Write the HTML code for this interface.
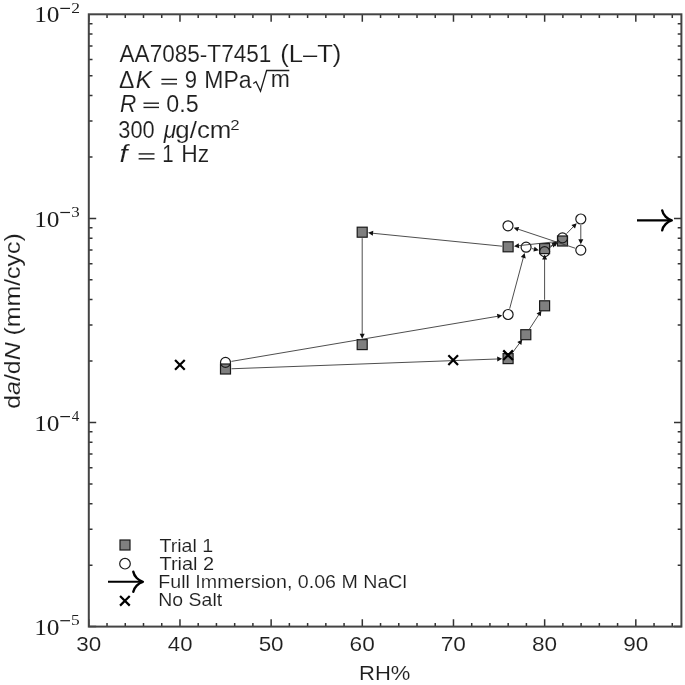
<!DOCTYPE html>
<html><head><meta charset="utf-8"><style>
html,body{margin:0;padding:0;background:#fff;}
svg{display:block;will-change:transform;}
text{stroke:#fff;stroke-width:0.1px;}
</style></head><body>
<svg width="685" height="685" viewBox="0 0 685 685">
<rect width="685" height="685" fill="#fff"/>
<path d="M88.80,626.60V619.20M88.80,14.30V21.70M107.03,626.60V622.90M107.03,14.30V18.00M125.27,626.60V622.90M125.27,14.30V18.00M143.50,626.60V622.90M143.50,14.30V18.00M161.74,626.60V622.90M161.74,14.30V18.00M179.97,626.60V619.20M179.97,14.30V21.70M198.20,626.60V622.90M198.20,14.30V18.00M216.44,626.60V622.90M216.44,14.30V18.00M234.67,626.60V622.90M234.67,14.30V18.00M252.90,626.60V622.90M252.90,14.30V18.00M271.14,626.60V619.20M271.14,14.30V21.70M289.37,626.60V622.90M289.37,14.30V18.00M307.61,626.60V622.90M307.61,14.30V18.00M325.84,626.60V622.90M325.84,14.30V18.00M344.07,626.60V622.90M344.07,14.30V18.00M362.31,626.60V619.20M362.31,14.30V21.70M380.54,626.60V622.90M380.54,14.30V18.00M398.78,626.60V622.90M398.78,14.30V18.00M417.01,626.60V622.90M417.01,14.30V18.00M435.24,626.60V622.90M435.24,14.30V18.00M453.48,626.60V619.20M453.48,14.30V21.70M471.71,626.60V622.90M471.71,14.30V18.00M489.94,626.60V622.90M489.94,14.30V18.00M508.18,626.60V622.90M508.18,14.30V18.00M526.41,626.60V622.90M526.41,14.30V18.00M544.65,626.60V619.20M544.65,14.30V21.70M562.88,626.60V622.90M562.88,14.30V18.00M581.11,626.60V622.90M581.11,14.30V18.00M599.35,626.60V622.90M599.35,14.30V18.00M617.58,626.60V622.90M617.58,14.30V18.00M635.82,626.60V619.20M635.82,14.30V21.70M654.05,626.60V622.90M654.05,14.30V18.00M672.28,626.60V622.90M672.28,14.30V18.00M88.80,626.60H96.20M681.40,626.60H674.00M88.80,565.16H92.50M681.40,565.16H677.70M88.80,529.22H92.50M681.40,529.22H677.70M88.80,503.72H92.50M681.40,503.72H677.70M88.80,483.94H92.50M681.40,483.94H677.70M88.80,467.78H92.50M681.40,467.78H677.70M88.80,454.12H92.50M681.40,454.12H677.70M88.80,442.28H92.50M681.40,442.28H677.70M88.80,431.84H92.50M681.40,431.84H677.70M88.80,422.50H96.20M681.40,422.50H674.00M88.80,361.06H92.50M681.40,361.06H677.70M88.80,325.12H92.50M681.40,325.12H677.70M88.80,299.62H92.50M681.40,299.62H677.70M88.80,279.84H92.50M681.40,279.84H677.70M88.80,263.68H92.50M681.40,263.68H677.70M88.80,250.02H92.50M681.40,250.02H677.70M88.80,238.18H92.50M681.40,238.18H677.70M88.80,227.74H92.50M681.40,227.74H677.70M88.80,218.40H96.20M681.40,218.40H674.00M88.80,156.96H92.50M681.40,156.96H677.70M88.80,121.02H92.50M681.40,121.02H677.70M88.80,95.52H92.50M681.40,95.52H677.70M88.80,75.74H92.50M681.40,75.74H677.70M88.80,59.58H92.50M681.40,59.58H677.70M88.80,45.92H92.50M681.40,45.92H677.70M88.80,34.08H92.50M681.40,34.08H677.70M88.80,23.64H92.50M681.40,23.64H677.70" stroke="#333" stroke-width="1.5" fill="none"/><rect x="88.8" y="14.3" width="592.60" height="612.30" fill="none" stroke="#444" stroke-width="2.0"/><rect x="220.50" y="364.00" width="10" height="10" fill="#7f7f7f" stroke="#1a1a1a" stroke-width="1.2"/><rect x="503.10" y="353.60" width="10" height="10" fill="#7f7f7f" stroke="#1a1a1a" stroke-width="1.2"/><rect x="520.80" y="329.70" width="10" height="10" fill="#7f7f7f" stroke="#1a1a1a" stroke-width="1.2"/><rect x="539.60" y="300.80" width="10" height="10" fill="#7f7f7f" stroke="#1a1a1a" stroke-width="1.2"/><rect x="539.60" y="243.60" width="10" height="10" fill="#7f7f7f" stroke="#1a1a1a" stroke-width="1.2"/><rect x="557.50" y="236.00" width="10" height="10" fill="#7f7f7f" stroke="#1a1a1a" stroke-width="1.2"/><rect x="503.10" y="241.80" width="10" height="10" fill="#7f7f7f" stroke="#1a1a1a" stroke-width="1.2"/><rect x="357.20" y="227.20" width="10" height="10" fill="#7f7f7f" stroke="#1a1a1a" stroke-width="1.2"/><rect x="357.20" y="339.60" width="10" height="10" fill="#7f7f7f" stroke="#1a1a1a" stroke-width="1.2"/><circle cx="225.50" cy="362.40" r="5" fill="none" stroke="#1a1a1a" stroke-width="1.2"/><circle cx="508.10" cy="314.50" r="5" fill="none" stroke="#1a1a1a" stroke-width="1.2"/><circle cx="526.10" cy="247.20" r="5" fill="none" stroke="#1a1a1a" stroke-width="1.2"/><circle cx="544.60" cy="251.60" r="5" fill="none" stroke="#1a1a1a" stroke-width="1.2"/><circle cx="562.50" cy="237.90" r="5" fill="none" stroke="#1a1a1a" stroke-width="1.2"/><circle cx="580.80" cy="219.00" r="5" fill="none" stroke="#1a1a1a" stroke-width="1.2"/><circle cx="580.80" cy="250.10" r="5" fill="none" stroke="#1a1a1a" stroke-width="1.2"/><circle cx="508.00" cy="225.80" r="5" fill="none" stroke="#1a1a1a" stroke-width="1.2"/><line x1="231.50" y1="368.78" x2="497.71" y2="358.98" stroke="#3a3a3a" stroke-width="0.9"/><polygon points="502.20,358.82 497.30,361.50 497.12,356.50" fill="#111"/><line x1="511.67" y1="353.78" x2="519.61" y2="343.06" stroke="#3a3a3a" stroke-width="0.9"/><polygon points="522.29,339.44 521.32,344.95 517.30,341.97" fill="#111"/><line x1="529.07" y1="329.67" x2="538.93" y2="314.52" stroke="#3a3a3a" stroke-width="0.9"/><polygon points="541.38,310.75 540.75,316.30 536.56,313.57" fill="#111"/><line x1="544.60" y1="299.80" x2="544.60" y2="259.00" stroke="#3a3a3a" stroke-width="0.9"/><polygon points="544.60,254.50 547.10,259.50 542.10,259.50" fill="#111"/><line x1="550.12" y1="246.26" x2="552.93" y2="245.06" stroke="#3a3a3a" stroke-width="0.9"/><polygon points="557.07,243.31 553.44,247.56 551.49,242.96" fill="#111"/><line x1="556.53" y1="241.64" x2="518.44" y2="245.70" stroke="#3a3a3a" stroke-width="0.9"/><polygon points="513.97,246.17 518.67,243.16 519.20,248.13" fill="#111"/><line x1="502.13" y1="246.20" x2="372.55" y2="233.24" stroke="#3a3a3a" stroke-width="0.9"/><polygon points="368.07,232.79 373.29,230.80 372.80,235.77" fill="#111"/><line x1="362.20" y1="238.20" x2="362.20" y2="334.20" stroke="#3a3a3a" stroke-width="0.9"/><polygon points="362.20,338.70 359.70,333.70 364.70,333.70" fill="#111"/><line x1="231.42" y1="361.40" x2="497.85" y2="316.24" stroke="#3a3a3a" stroke-width="0.9"/><polygon points="502.28,315.49 497.77,318.79 496.94,313.86" fill="#111"/><line x1="509.65" y1="308.70" x2="523.41" y2="257.25" stroke="#3a3a3a" stroke-width="0.9"/><polygon points="524.58,252.90 525.70,258.38 520.87,257.08" fill="#111"/><line x1="531.94" y1="248.59" x2="534.48" y2="249.19" stroke="#3a3a3a" stroke-width="0.9"/><polygon points="538.86,250.23 533.42,251.51 534.57,246.65" fill="#111"/><line x1="549.36" y1="247.95" x2="554.24" y2="244.22" stroke="#3a3a3a" stroke-width="0.9"/><polygon points="557.81,241.49 555.36,246.51 552.32,242.54" fill="#111"/><line x1="566.67" y1="233.59" x2="573.57" y2="226.47" stroke="#3a3a3a" stroke-width="0.9"/><polygon points="576.70,223.24 575.01,228.57 571.42,225.09" fill="#111"/><line x1="580.80" y1="225.00" x2="580.80" y2="239.70" stroke="#3a3a3a" stroke-width="0.9"/><polygon points="580.80,244.20 578.30,239.20 583.30,239.20" fill="#111"/><line x1="575.11" y1="248.20" x2="517.86" y2="229.09" stroke="#3a3a3a" stroke-width="0.9"/><polygon points="513.60,227.67 519.13,226.88 517.55,231.62" fill="#111"/><path d="M175.05,360.05L184.75,369.75M175.05,369.75L184.75,360.05" stroke="#000" stroke-width="2.2" fill="none"/><path d="M448.35,355.25L458.05,364.95M448.35,364.95L458.05,355.25" stroke="#000" stroke-width="2.2" fill="none"/><path d="M503.25,350.35L512.95,360.05M503.25,360.05L512.95,350.35" stroke="#000" stroke-width="2.2" fill="none"/><path d="M637.00,220.40H670.80" stroke="#000" stroke-width="2.1" fill="none"/><path d="M662.20,210.40C663.00,214.90 667.30,219.20 671.80,220.40C667.30,221.60 663.00,225.90 662.20,230.40" stroke="#000" stroke-width="2.4" fill="none" stroke-linecap="round" stroke-linejoin="round"/><rect x="120.00" y="540.00" width="10" height="10" fill="#7f7f7f" stroke="#1a1a1a" stroke-width="1.2"/><circle cx="125.00" cy="563.70" r="5.3" fill="none" stroke="#1a1a1a" stroke-width="1.2"/><path d="M108.00,581.80H141.90" stroke="#000" stroke-width="2.1" fill="none"/><path d="M133.30,571.80C134.10,576.30 138.40,580.60 142.90,581.80C138.40,583.00 134.10,587.30 133.30,591.80" stroke="#000" stroke-width="2.4" fill="none" stroke-linecap="round" stroke-linejoin="round"/><path d="M120.05,595.95L129.75,605.65M120.05,605.65L129.75,595.95" stroke="#000" stroke-width="2.2" fill="none"/><path d="M253.2,83.5L256,81.8L260.5,91.2L266.6,70.5H289.3" stroke="#1e1e1e" stroke-width="1.3" fill="none"/>
<text transform="translate(119.56,61.80) scale(0.9730,1)" font-family='"Liberation Sans", sans-serif' font-size="23.2" fill="#1e1e1e">AA7085-T7451</text><text transform="translate(280.31,61.80) scale(1.1018,1)" font-family='"Liberation Sans", sans-serif' font-size="23.2" fill="#1e1e1e">(L–T)</text><text transform="translate(119.01,87.60) scale(0.9927,1)" font-family='"Liberation Sans", sans-serif' font-size="23.2" fill="#1e1e1e">Δ</text><text transform="translate(135.75,87.60) scale(1.0442,1)" font-family='"Liberation Sans", sans-serif' font-size="23.2" font-style="italic" fill="#1e1e1e">K</text><rect x="161.40" y="78.70" width="15.60" height="1.4" fill="#1e1e1e"/><rect x="161.40" y="83.20" width="15.60" height="1.4" fill="#1e1e1e"/><text transform="translate(184.76,87.60) scale(0.9518,1)" font-family='"Liberation Sans", sans-serif' font-size="23.2" fill="#1e1e1e">9</text><text transform="translate(204.31,87.60) scale(0.9913,1)" font-family='"Liberation Sans", sans-serif' font-size="23.2" fill="#1e1e1e">MPa</text><text transform="translate(270.67,87.40) scale(0.9904,1)" font-family='"Liberation Sans", sans-serif' font-size="23.2" fill="#1e1e1e">m</text><text transform="translate(119.91,111.50) scale(0.9721,1)" font-family='"Liberation Sans", sans-serif' font-size="23.2" font-style="italic" fill="#1e1e1e">R</text><rect x="143.50" y="102.50" width="15.50" height="1.4" fill="#1e1e1e"/><rect x="143.50" y="106.70" width="15.50" height="1.4" fill="#1e1e1e"/><text transform="translate(166.29,111.50) scale(1.0010,1)" font-family='"Liberation Sans", sans-serif' font-size="23.2" fill="#1e1e1e">0.5</text><text transform="translate(118.37,137.90) scale(0.9399,1)" font-family='"Liberation Sans", sans-serif' font-size="23.2" fill="#1e1e1e">300</text><text transform="translate(163.67,137.90) scale(0.9748,1)" font-family='"Liberation Sans", sans-serif' font-size="23.2" font-style="italic" fill="#1e1e1e">μ</text><text transform="translate(175.31,137.90) scale(1.1157,1)" font-family='"Liberation Sans", sans-serif' font-size="23.2" fill="#1e1e1e">g/cm</text><text transform="translate(230.25,129.60) scale(1.1657,1)" font-family='"Liberation Sans", sans-serif' font-size="14.5" fill="#1e1e1e">2</text><text transform="translate(119.43,161.60) scale(1.2500,1)" font-family='"Liberation Sans", sans-serif' font-size="23.2" font-style="italic" fill="#1e1e1e">f</text><rect x="138.60" y="153.20" width="15.90" height="1.4" fill="#1e1e1e"/><rect x="138.60" y="158.10" width="15.90" height="1.4" fill="#1e1e1e"/><text transform="translate(162.35,161.60) scale(0.8798,1)" font-family='"Liberation Sans", sans-serif' font-size="23.2" fill="#1e1e1e">1</text><text transform="translate(181.33,161.60) scale(0.9844,1)" font-family='"Liberation Sans", sans-serif' font-size="23.2" fill="#1e1e1e">Hz</text><text transform="translate(159.46,551.60) scale(1.0681,1)" font-family='"Liberation Sans", sans-serif' font-size="18.4" fill="#1e1e1e">Trial 1</text><text transform="translate(159.45,569.70) scale(1.0867,1)" font-family='"Liberation Sans", sans-serif' font-size="18.4" fill="#1e1e1e">Trial 2</text><text transform="translate(158.29,588.10) scale(1.0665,1)" font-family='"Liberation Sans", sans-serif' font-size="18.4" fill="#1e1e1e">Full Immersion, 0.06 M NaCl</text><text transform="translate(158.30,606.20) scale(1.0580,1)" font-family='"Liberation Sans", sans-serif' font-size="18.4" fill="#1e1e1e">No Salt</text><text transform="translate(76.35,651.40) scale(1.0880,1)" font-family='"Liberation Sans", sans-serif' font-size="20.6" fill="#1e1e1e">30</text><text transform="translate(167.86,651.40) scale(1.0723,1)" font-family='"Liberation Sans", sans-serif' font-size="20.6" fill="#1e1e1e">40</text><text transform="translate(258.64,651.40) scale(1.0900,1)" font-family='"Liberation Sans", sans-serif' font-size="20.6" fill="#1e1e1e">50</text><text transform="translate(349.56,651.40) scale(1.1015,1)" font-family='"Liberation Sans", sans-serif' font-size="20.6" fill="#1e1e1e">60</text><text transform="translate(440.71,651.40) scale(1.1020,1)" font-family='"Liberation Sans", sans-serif' font-size="20.6" fill="#1e1e1e">70</text><text transform="translate(532.07,651.40) scale(1.0936,1)" font-family='"Liberation Sans", sans-serif' font-size="20.6" fill="#1e1e1e">80</text><text transform="translate(623.16,651.40) scale(1.0973,1)" font-family='"Liberation Sans", sans-serif' font-size="20.6" fill="#1e1e1e">90</text><text style="stroke:none" transform="translate(34.17,22.40) scale(1.1239,1)" font-family='"Liberation Serif", serif' font-size="22.6" fill="#1e1e1e">10</text><rect x="60.3" y="7.80" width="9.7" height="1.2" fill="#1e1e1e"/><text style="stroke:none" transform="translate(71.23,12.50) scale(1.2473,1)" font-family='"Liberation Serif", serif' font-size="14.0" fill="#1e1e1e">2</text><text style="stroke:none" transform="translate(34.17,226.50) scale(1.1239,1)" font-family='"Liberation Serif", serif' font-size="22.6" fill="#1e1e1e">10</text><rect x="60.3" y="211.90" width="9.7" height="1.2" fill="#1e1e1e"/><text style="stroke:none" transform="translate(71.19,216.60) scale(1.2104,1)" font-family='"Liberation Serif", serif' font-size="14.0" fill="#1e1e1e">3</text><text style="stroke:none" transform="translate(34.17,430.60) scale(1.1239,1)" font-family='"Liberation Serif", serif' font-size="22.6" fill="#1e1e1e">10</text><rect x="60.3" y="416.00" width="9.7" height="1.2" fill="#1e1e1e"/><text style="stroke:none" transform="translate(71.71,420.70) scale(1.0756,1)" font-family='"Liberation Serif", serif' font-size="14.0" fill="#1e1e1e">4</text><text style="stroke:none" transform="translate(34.17,634.70) scale(1.1239,1)" font-family='"Liberation Serif", serif' font-size="22.6" fill="#1e1e1e">10</text><rect x="60.3" y="620.10" width="9.7" height="1.2" fill="#1e1e1e"/><text style="stroke:none" transform="translate(70.99,624.80) scale(1.2412,1)" font-family='"Liberation Serif", serif' font-size="14.0" fill="#1e1e1e">5</text><text transform="translate(358.99,680.40) scale(1.0588,1)" font-family='"Liberation Sans", sans-serif' font-size="20.8" fill="#1e1e1e">RH%</text><text transform="translate(20.2,408.74) rotate(-90) scale(1.1298,1)" font-family='"Liberation Sans", sans-serif' font-size="22.0" fill="#1e1e1e" xml:space="preserve"><tspan>d</tspan><tspan font-style="italic">a</tspan><tspan>/</tspan><tspan>d</tspan><tspan font-style="italic">N</tspan><tspan> (mm/cyc)</tspan></text>
</svg>
</body></html>
